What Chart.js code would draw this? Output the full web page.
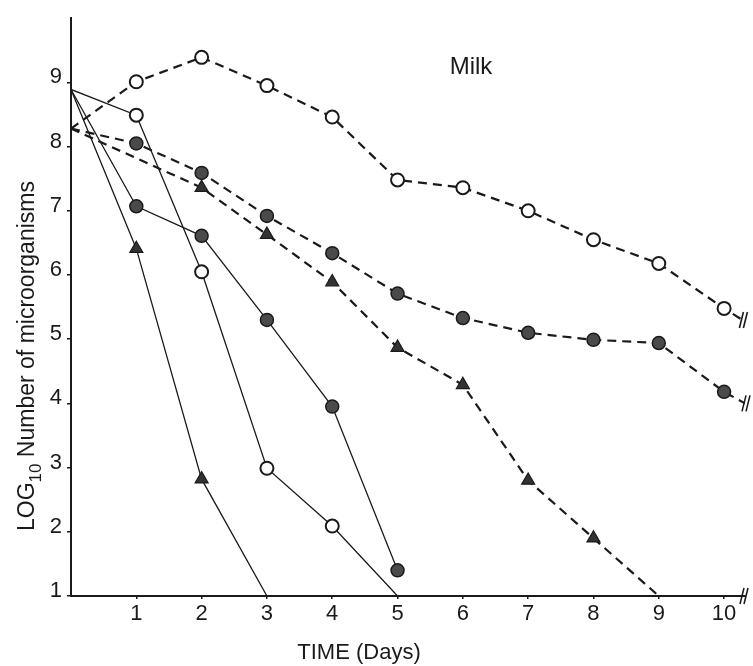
<!DOCTYPE html>
<html>
<head>
<meta charset="utf-8">
<script src="https://cdn.jsdelivr.net/npm/chart.js@4.4.1/dist/chart.umd.min.js"></script>
<style>
  html, body { margin: 0; padding: 0; background: #ffffff; }
  #wrap { width: 753px; height: 666px; position: relative; }
</style>
</head>
<body>
<div id="wrap"><canvas id="c" width="753" height="666"></canvas></div>
<script>
// ---- data ----
const tickDays = [1, 2, 3, 4, 5, 6, 7, 8, 9, 10];
const tickLogs = [1, 2, 3, 4, 5, 6, 7, 8, 9];

const dashOpenDays = [0, 1, 2, 3, 4, 5, 6, 7, 8, 9, 10, 10.28];
const dashOpenLog  = [8.28, 9.01, 9.39, 8.95, 8.46, 7.48, 7.36, 7.00, 6.55, 6.18, 5.48, 5.30];

const dashFilledDays = [0, 1, 2, 3, 4, 5, 6, 7, 8, 9, 10, 10.32];
const dashFilledLog  = [8.28, 8.05, 7.59, 6.92, 6.34, 5.71, 5.33, 5.10, 4.99, 4.94, 4.18, 4.00];

const dashTriDays = [0, 2, 3, 4, 5, 6, 7, 8, 9];
const dashTriLog  = [8.28, 7.36, 6.63, 5.89, 4.87, 4.29, 2.80, 1.90, 1.00];

const solidOpenDays = [0, 1, 2, 3, 4, 5];
const solidOpenLog  = [8.89, 8.49, 6.05, 2.99, 2.09, 1.00];

const solidFilledDays = [0, 1, 2, 3, 4, 5];
const solidFilledLog  = [8.89, 7.07, 6.61, 5.30, 3.95, 1.40];

const solidTriDays = [0, 1, 2, 3];
const solidTriLog  = [8.89, 6.41, 2.82, 1.00];

const chartTitle = 'Milk';
const xTitle = 'TIME (Days)';
const yTitleMain = 'LOG';
const yTitleSub = '10';
const yTitleRest = ' Number of microorganisms';

// ---- helpers ----
const ink = '#1a1a1a';
const fontFam = "'Liberation Sans', Arial, sans-serif";
function pts(xs, ys) { return xs.map((x, i) => ({ x: x, y: ys[i] })); }
function radii(n, hideFirst, hideLast, r) {
  return Array.from({ length: n }, (_, i) => ((hideFirst && i === 0) || (hideLast && i === n - 1)) ? 0 : r);
}

function series(xs, ys, opts) {
  return Object.assign({
    data: pts(xs, ys),
    borderColor: ink,
    pointBorderColor: ink,
    tension: 0,
    fill: false,
    pointHoverRadius: 0
  }, opts);
}

const dashed = [9, 6];

const datasets = [
  series(dashOpenDays, dashOpenLog, {
    borderWidth: 2.2, borderDash: dashed, pointStyle: 'circle',
    pointRadius: radii(dashOpenDays.length, true, true, 6.5),
    pointBackgroundColor: '#ffffff', pointBorderWidth: 2
  }),
  series(dashFilledDays, dashFilledLog, {
    borderWidth: 2.2, borderDash: dashed, pointStyle: 'circle',
    pointRadius: radii(dashFilledDays.length, true, true, 6.5),
    pointBackgroundColor: '#4a4a4a', pointBorderWidth: 1.5
  }),
  series(dashTriDays, dashTriLog, {
    borderWidth: 2.2, borderDash: dashed, pointStyle: 'triangle',
    pointRadius: radii(dashTriDays.length, true, true, 7.5),
    pointBackgroundColor: '#333333', pointBorderWidth: 1.2
  }),
  series(solidOpenDays, solidOpenLog, {
    borderWidth: 1.3, pointStyle: 'circle',
    pointRadius: radii(solidOpenDays.length, true, true, 6.5),
    pointBackgroundColor: '#ffffff', pointBorderWidth: 2
  }),
  series(solidFilledDays, solidFilledLog, {
    borderWidth: 1.3, pointStyle: 'circle',
    pointRadius: radii(solidFilledDays.length, true, false, 6.5),
    pointBackgroundColor: '#4a4a4a', pointBorderWidth: 1.5
  }),
  series(solidTriDays, solidTriLog, {
    borderWidth: 1.3, pointStyle: 'triangle',
    pointRadius: radii(solidTriDays.length, true, true, 7.5),
    pointBackgroundColor: '#333333', pointBorderWidth: 1.2
  })
];

// break marks and free text
const decorPlugin = {
  id: 'decor',
  afterDraw(chart) {
    const ctx = chart.ctx;
    const xs = chart.scales.x, ys = chart.scales.y;
    ctx.save();
    ctx.strokeStyle = ink;
    ctx.lineWidth = 1.6;
    function brk(px, py) {
      for (const off of [0, 4]) {
        ctx.beginPath();
        ctx.moveTo(px - 3 + off, py + 8);
        ctx.lineTo(px + 1 + off, py - 8);
        ctx.stroke();
      }
    }
    // x axis break
    brk(xs.getPixelForValue(xs.max) - 2, ys.getPixelForValue(ys.min));
    // series breaks
    const lo = dashOpenDays.length - 1, lf = dashFilledDays.length - 1;
    brk(xs.getPixelForValue(dashOpenDays[lo]), ys.getPixelForValue(dashOpenLog[lo]));
    brk(xs.getPixelForValue(dashFilledDays[lf]), ys.getPixelForValue(dashFilledLog[lf]));

    // "Milk"
    ctx.fillStyle = ink;
    ctx.font = '24px ' + fontFam;
    ctx.textAlign = 'center';
    ctx.textBaseline = 'alphabetic';
    ctx.fillText(chartTitle, 471, 74);

    // x title
    ctx.font = '22px ' + fontFam;
    ctx.fillText(xTitle, 359, 659);

    // y title (rotated, with subscript)
    ctx.translate(34, 531);
    ctx.rotate(-Math.PI / 2);
    ctx.textAlign = 'left';
    ctx.font = '23px ' + fontFam;
    let x = 0;
    ctx.fillText(yTitleMain, x, 0);
    x += ctx.measureText(yTitleMain).width;
    ctx.font = '17px ' + fontFam;
    ctx.fillText(yTitleSub, x, 7);
    x += ctx.measureText(yTitleSub).width;
    ctx.font = '23px ' + fontFam;
    ctx.fillText(yTitleRest, x, 0);
    ctx.restore();
  }
};

new Chart(document.getElementById('c'), {
  type: 'line',
  data: { datasets: datasets },
  options: {
    responsive: false,
    animation: false,
    events: [],
    layout: { padding: { top: 8, right: 5, left: 0, bottom: 0 } },
    plugins: { legend: { display: false }, tooltip: { enabled: false }, title: { display: false } },
    scales: {
      x: {
        type: 'linear',
        min: 0, max: 10.32,
        afterBuildTicks: (s) => { s.ticks = tickDays.map(v => ({ value: v })); },
        afterFit: (s) => { s.height = 70; },
        border: { display: true, color: ink, width: 2 },
        grid: { display: true, drawOnChartArea: false, drawTicks: true, tickLength: 3, color: ink, lineWidth: 1.5 },
        ticks: { color: ink, font: { family: fontFam, size: 22 }, padding: 2, maxRotation: 0, autoSkip: false }
      },
      y: {
        type: 'linear',
        min: 1, max: 10,
        afterBuildTicks: (s) => { s.ticks = tickLogs.map(v => ({ value: v })); },
        afterFit: (s) => { s.width = 71; },
        border: { display: true, color: ink, width: 2 },
        grid: { display: true, drawOnChartArea: false, drawTicks: true, tickLength: 4, color: ink, lineWidth: 1.5 },
        ticks: { color: ink, font: { family: fontFam, size: 22 }, padding: 5, labelOffset: -5, autoSkip: false }
      }
    }
  },
  plugins: [decorPlugin]
});
</script>
</body>
</html>
